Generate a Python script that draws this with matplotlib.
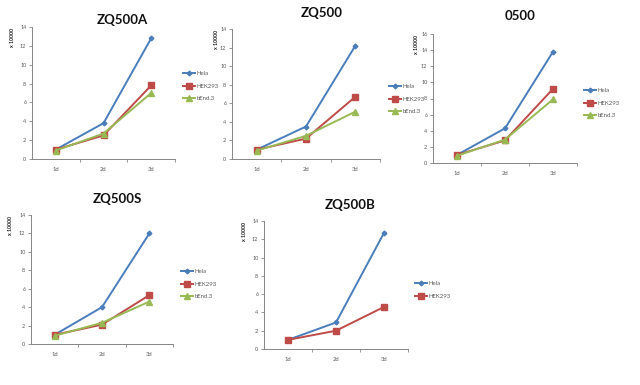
import matplotlib
matplotlib.use("Agg")
import matplotlib.pyplot as plt

W, H = 640, 385
days = ["1d", "2d", "3d"]
series_names = ["Hela", "HEK293", "bEnd.3"]

titles = ["ZQ500A", "ZQ500", "0500", "ZQ500S", "ZQ500B"]
hela = [[1.0, 3.8, 12.8], [1.0, 3.5, 12.2], [1.0, 4.3, 13.8], [1.0, 4.0, 12.0], [1.0, 2.9, 12.7]]
hek293 = [[1.0, 2.5, 7.8], [1.0, 2.2, 6.7], [1.0, 2.8, 9.2], [1.0, 2.1, 5.3], [1.0, 2.0, 4.6]]
bend3 = [[0.9, 2.7, 7.0], [0.9, 2.5, 5.1], [0.9, 2.9, 7.9], [0.9, 2.3, 4.6], None]
ymax = [14, 14, 16, 14, 14]
ylabel = "x 10000"

# layout in pixels: (left, right, top, bottom)
boxes = [(32, 175, 27, 159), (232, 380, 29, 159), (433, 577, 34, 163),
         (31, 173, 215, 344), (264, 408, 221, 349)]
title_pos = [(122, 20), (322, 13), (520, 16), (117, 199), (350, 205)]
legend_pos = [(183, 86), (389, 99), (584, 103), (181, 284), (415, 290)]
ylab_x = [12, 216, 416, 11, 245]

colors = {"Hela": "#4A7EBB", "HEK293": "#BE4B48", "bEnd.3": "#98B954"}
markers = {"Hela": ("D", 2.4), "HEK293": ("s", 3.8), "bEnd.3": ("^", 4.0)}

fig = plt.figure(figsize=(W / 100, H / 100), dpi=100)
fig.patch.set_facecolor("white")
plt.rcParams["font.family"] = ["Lato", "DejaVu Sans"]

axis_col = "#868686"
txt_col = "#595959"

for i in range(5):
    l, r, t, b = boxes[i]
    ax = fig.add_axes([l / W, 1 - b / H, (r - l) / W, (b - t) / H])
    xs = list(range(len(days)))
    data = [("Hela", hela[i]), ("HEK293", hek293[i]), ("bEnd.3", bend3[i])]
    for name, vals in data:
        if vals is None:
            continue
        m, ms = markers[name]
        ax.plot(xs, vals, color=colors[name], lw=1.4, marker=m, markersize=ms,
                markeredgecolor=colors[name], label=name)
    ax.set_xlim(-0.5, 2.5)
    ax.set_ylim(0, ymax[i])
    ax.set_yticks(range(0, ymax[i] + 1, 2))
    ax.set_xticks(xs)
    ax.set_xticklabels(days)
    ax.set_xticks([0.5, 1.5, 2.5], minor=True)
    for s in ["top", "right"]:
        ax.spines[s].set_visible(False)
    for s in ["left", "bottom"]:
        ax.spines[s].set_color(axis_col)
        ax.spines[s].set_linewidth(0.7)
    ax.tick_params(axis="x", which="major", length=0, pad=6, labelsize=4.2, labelcolor=txt_col)
    ax.tick_params(axis="x", which="minor", length=2.5, color=axis_col, width=0.6, direction="out")
    ax.tick_params(axis="y", length=2, color=axis_col, width=0.6, direction="out", pad=2,
                   labelsize=4.0, labelcolor=txt_col)
    ax.patch.set_alpha(0)
    ax.text((ylab_x[i] - l) / (r - l), 0.99, ylabel, transform=ax.transAxes, rotation=90,
            ha="center", va="top", fontsize=3.8, fontweight="bold", color="#222222")
    tx, ty = title_pos[i]
    fig.text(tx / W, 1 - ty / H, titles[i], ha="center", va="center", fontsize=9.5,
             fontweight="bold", color="#111111")
    lx, ly = legend_pos[i]
    ax.legend(loc="center left", bbox_to_anchor=(lx / W, 1 - ly / H), bbox_transform=fig.transFigure,
              frameon=False, fontsize=4.3, handlelength=2.0, handletextpad=0.2, labelspacing=1.2,
              borderpad=0, borderaxespad=0, labelcolor=txt_col)

fig.savefig("out.png", dpi=100, facecolor="white")
